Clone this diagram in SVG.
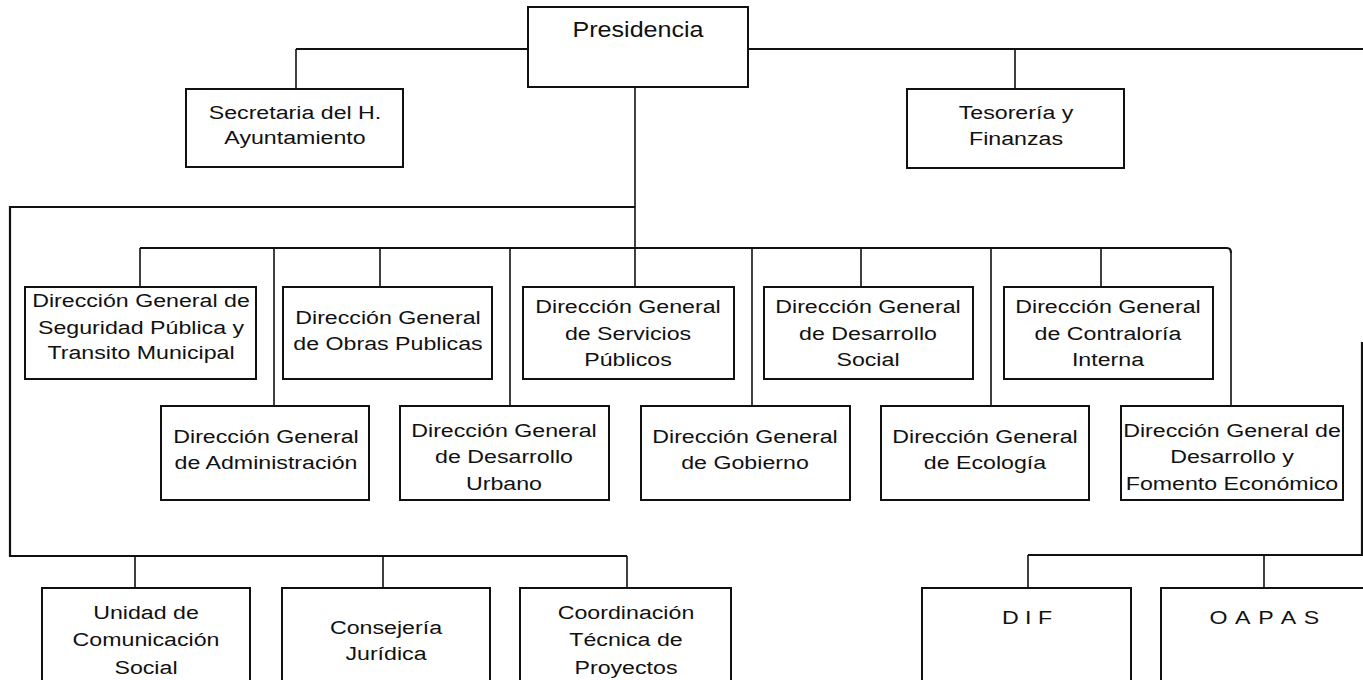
<svg xmlns="http://www.w3.org/2000/svg" width="1363" height="680" viewBox="0 0 1363 680">
  <style>
    .box { fill: #fff; stroke: #111; stroke-width: 2; }
    .ln { fill: none; stroke: #111; stroke-width: 1.6; }
    .hl { fill: none; stroke: #111; stroke-width: 2.2; }
    .t { font-family: "Liberation Sans", Arial, sans-serif; font-size: 19px; fill: #111; text-anchor: middle; }
    .big { font-size: 22px; }
  </style>
  <rect width="1363" height="680" fill="#fff"/>

  <!-- connectors -->
  <g id="connectors">
    <path class="hl" d="M296,49 H528 M748,49 H1363"/>
    <path class="ln" d="M296,49 V89 M1015,49 V89"/>
    <path class="ln" d="M635,87 V287"/>
    <path class="hl" d="M635,207 H10 V556 H627"/>
    <path class="ln" d="M135,556 V588 M383,556 V588 M627,556 V588"/>
    <path class="hl" d="M140,248 H1227 q4,0 4,5"/>
    <path class="ln" d="M140,248 V287 M274,248 V406 M380,248 V287 M510,248 V406 M752,248 V406 M861,248 V287 M991,248 V406 M1101,248 V287 M1231,252 V406"/>
    <path class="hl" d="M1362,342 V555 H1028"/>
    <path class="ln" d="M1028,555 V588 M1264,555 V588"/>
  </g>

  <!-- top level -->
  <g id="presidencia">
    <rect class="box" x="528" y="7" width="220" height="80"/>
    <text class="t big" transform="translate(638 0) scale(1.14 1)"><tspan x="0" y="37">Presidencia</tspan></text>
  </g>
  <g id="secretaria">
    <rect class="box" x="186" y="89" width="217" height="78"/>
    <text class="t" transform="translate(295 0) scale(1.22 1)"><tspan x="0" y="119">Secretaria del H.</tspan><tspan x="0" y="144">Ayuntamiento</tspan></text>
  </g>
  <g id="tesoreria">
    <rect class="box" x="907" y="89" width="217" height="79"/>
    <text class="t" transform="translate(1016 0) scale(1.22 1)"><tspan x="0" y="119">Tesorería y</tspan><tspan x="0" y="145">Finanzas</tspan></text>
  </g>

  <!-- first row of directorates -->
  <g id="seguridad">
    <rect class="box" x="25" y="287" width="231" height="92"/>
    <text class="t" transform="translate(141 0) scale(1.22 1)"><tspan x="0" y="307">Dirección General de</tspan><tspan x="0" y="334">Seguridad Pública y</tspan><tspan x="0" y="359">Transito Municipal</tspan></text>
  </g>
  <g id="obras">
    <rect class="box" x="283" y="287" width="209" height="92"/>
    <text class="t" transform="translate(388 0) scale(1.22 1)"><tspan x="0" y="324">Dirección General</tspan><tspan x="0" y="350">de Obras Publicas</tspan></text>
  </g>
  <g id="servicios">
    <rect class="box" x="523" y="287" width="211" height="92"/>
    <text class="t" transform="translate(628 0) scale(1.22 1)"><tspan x="0" y="313">Dirección General</tspan><tspan x="0" y="340">de Servicios</tspan><tspan x="0" y="366">Públicos</tspan></text>
  </g>
  <g id="desarrollo-social">
    <rect class="box" x="764" y="287" width="209" height="92"/>
    <text class="t" transform="translate(868 0) scale(1.22 1)"><tspan x="0" y="313">Dirección General</tspan><tspan x="0" y="340">de Desarrollo</tspan><tspan x="0" y="366">Social</tspan></text>
  </g>
  <g id="contraloria">
    <rect class="box" x="1004" y="287" width="209" height="92"/>
    <text class="t" transform="translate(1108 0) scale(1.22 1)"><tspan x="0" y="313">Dirección General</tspan><tspan x="0" y="340">de Contraloría</tspan><tspan x="0" y="366">Interna</tspan></text>
  </g>

  <!-- second row of directorates -->
  <g id="administracion">
    <rect class="box" x="161" y="406" width="208" height="94"/>
    <text class="t" transform="translate(266 0) scale(1.22 1)"><tspan x="0" y="443">Dirección General</tspan><tspan x="0" y="469">de Administración</tspan></text>
  </g>
  <g id="desarrollo-urbano">
    <rect class="box" x="400" y="406" width="209" height="94"/>
    <text class="t" transform="translate(504 0) scale(1.22 1)"><tspan x="0" y="437">Dirección General</tspan><tspan x="0" y="463">de Desarrollo</tspan><tspan x="0" y="490">Urbano</tspan></text>
  </g>
  <g id="gobierno">
    <rect class="box" x="641" y="406" width="209" height="94"/>
    <text class="t" transform="translate(745 0) scale(1.22 1)"><tspan x="0" y="443">Dirección General</tspan><tspan x="0" y="469">de Gobierno</tspan></text>
  </g>
  <g id="ecologia">
    <rect class="box" x="881" y="406" width="208" height="94"/>
    <text class="t" transform="translate(985 0) scale(1.22 1)"><tspan x="0" y="443">Dirección General</tspan><tspan x="0" y="469">de Ecología</tspan></text>
  </g>
  <g id="fomento">
    <rect class="box" x="1121" y="406" width="222" height="94"/>
    <text class="t" transform="translate(1232 0) scale(1.22 1)"><tspan x="0" y="437">Dirección General de</tspan><tspan x="0" y="463">Desarrollo y</tspan><tspan x="0" y="490">Fomento Económico</tspan></text>
  </g>

  <!-- staff units -->
  <g id="comunicacion">
    <rect class="box" x="42" y="588" width="208" height="100"/>
    <text class="t" transform="translate(146 0) scale(1.22 1)"><tspan x="0" y="619">Unidad de</tspan><tspan x="0" y="646">Comunicación</tspan><tspan x="0" y="674">Social</tspan></text>
  </g>
  <g id="juridica">
    <rect class="box" x="282" y="588" width="208" height="100"/>
    <text class="t" transform="translate(386 0) scale(1.22 1)"><tspan x="0" y="634">Consejería</tspan><tspan x="0" y="660">Jurídica</tspan></text>
  </g>
  <g id="proyectos">
    <rect class="box" x="520" y="588" width="211" height="100"/>
    <text class="t" transform="translate(626 0) scale(1.22 1)"><tspan x="0" y="619">Coordinación</tspan><tspan x="0" y="646">Técnica de</tspan><tspan x="0" y="674">Proyectos</tspan></text>
  </g>

  <!-- decentralised bodies -->
  <g id="dif">
    <rect class="box" x="922" y="588" width="209" height="100"/>
    <text class="t" transform="translate(1027 0) scale(1.22 1)"><tspan x="0" y="624">D I F</tspan></text>
  </g>
  <g id="oapas">
    <rect class="box" x="1161" y="588" width="214" height="100"/>
    <text class="t" transform="translate(1265 0) scale(1.22 1)" letter-spacing="1"><tspan x="0" y="624">O A P A S</tspan></text>
  </g>
</svg>
